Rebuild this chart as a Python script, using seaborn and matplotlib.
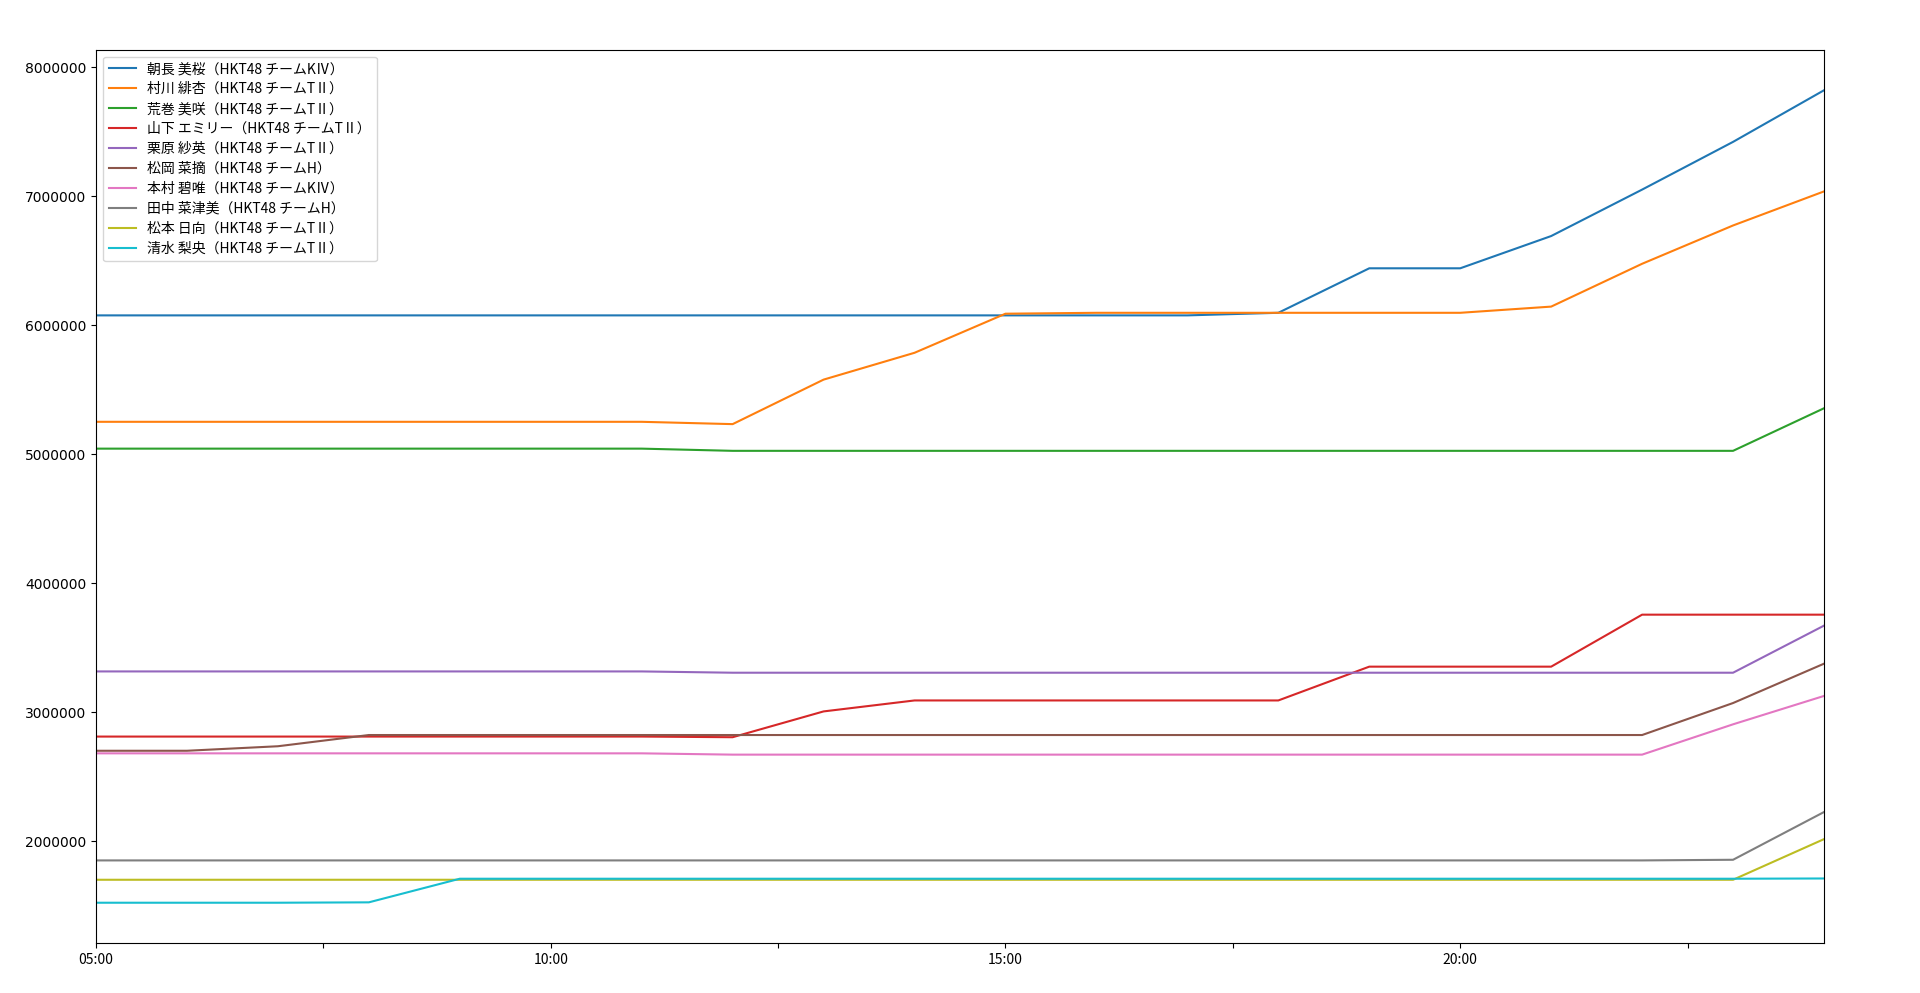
import numpy as np
import pandas as pd
import matplotlib
matplotlib.use("Agg")
import matplotlib.pyplot as plt
import matplotlib.ticker as mticker
from matplotlib import font_manager
import seaborn as sns

# hours of the day (24 = midnight)
hours = [5, 6, 7, 8, 9, 10, 11, 12, 13, 14, 15, 16, 17, 18, 19, 20, 21, 22, 23, 24]

names = [
    "朝長 美桜（HKT48 チームKⅣ）",
    "村川 緋杏（HKT48 チームTⅡ）",
    "荒巻 美咲（HKT48 チームTⅡ）",
    "山下 エミリー（HKT48 チームTⅡ）",
    "栗原 紗英（HKT48 チームTⅡ）",
    "松岡 菜摘（HKT48 チームH）",
    "本村 碧唯（HKT48 チームKⅣ）",
    "田中 菜津美（HKT48 チームH）",
    "松本 日向（HKT48 チームTⅡ）",
    "清水 梨央（HKT48 チームTⅡ）",
]

tomonaga = [6075000, 6075000, 6075000, 6075000, 6075000, 6075000, 6075000, 6075000, 6075000, 6075000,
            6075000, 6075000, 6075000, 6095000, 6440000, 6440000, 6690000, 7050000, 7420000, 7820000]
murakawa = [5250000, 5250000, 5250000, 5250000, 5250000, 5250000, 5250000, 5232000, 5577000, 5785000,
            6088000, 6095000, 6095000, 6095000, 6095000, 6095000, 6143000, 6475000, 6772000, 7036000]
aramaki = [5042000, 5042000, 5042000, 5042000, 5042000, 5042000, 5042000, 5025000, 5025000, 5025000,
           5025000, 5025000, 5025000, 5025000, 5025000, 5025000, 5025000, 5025000, 5025000, 5355000]
yamashita = [2810000, 2810000, 2810000, 2810000, 2810000, 2810000, 2810000, 2805000, 3005000, 3090000,
             3090000, 3090000, 3090000, 3090000, 3352000, 3352000, 3352000, 3755000, 3755000, 3755000]
kurihara = [3315000, 3315000, 3315000, 3315000, 3315000, 3315000, 3315000, 3305000, 3305000, 3305000,
            3305000, 3305000, 3305000, 3305000, 3305000, 3305000, 3305000, 3305000, 3305000, 3670000]
matsuoka = [2700000, 2700000, 2735000, 2822000, 2822000, 2822000, 2822000, 2822000, 2822000, 2822000,
            2822000, 2822000, 2822000, 2822000, 2822000, 2822000, 2822000, 2822000, 3070000, 3375000]
motomura = [2680000, 2680000, 2680000, 2680000, 2680000, 2680000, 2680000, 2670000, 2670000, 2670000,
            2670000, 2670000, 2670000, 2670000, 2670000, 2670000, 2670000, 2670000, 2905000, 3125000]
tanaka = [1850000, 1850000, 1850000, 1850000, 1850000, 1850000, 1850000, 1850000, 1850000, 1850000,
          1850000, 1850000, 1850000, 1850000, 1850000, 1850000, 1850000, 1850000, 1855000, 2225000]
matsumoto = [1700000, 1700000, 1700000, 1700000, 1700000, 1700000, 1700000, 1700000, 1700000, 1700000,
             1700000, 1700000, 1700000, 1700000, 1700000, 1700000, 1700000, 1700000, 1700000, 2015000]
shimizu = [1522000, 1522000, 1522000, 1525000, 1708000, 1708000, 1708000, 1708000, 1708000, 1708000,
           1708000, 1708000, 1708000, 1708000, 1708000, 1708000, 1708000, 1708000, 1708000, 1710000]

series = [tomonaga, murakawa, aramaki, yamashita, kurihara,
          matsuoka, motomura, tanaka, matsumoto, shimizu]

plt.rcParams['font.family'] = ['Noto Sans CJK JP', 'DejaVu Sans']
plt.rcParams['font.size'] = 10

available = {f.name for f in font_manager.fontManager.ttflist}
narrow = 'Liberation Sans Narrow' if 'Liberation Sans Narrow' in available else 'Noto Sans CJK JP'

fig, ax = plt.subplots(figsize=(19.2, 9.93), dpi=100)
fig.subplots_adjust(left=0.05, right=0.95, top=0.95, bottom=0.05)

colors = sns.color_palette("tab10", 10)
for name, vals, c in zip(names, series, colors):
    sns.lineplot(x=hours, y=vals, label=name, color=c, ax=ax, linewidth=1.5)

ax.set_xlim(hours[0], hours[-1])
ax.xaxis.set_major_locator(mticker.MultipleLocator(2.5))
ax.xaxis.set_major_formatter(mticker.FuncFormatter(
    lambda v, p: "%02d:00" % int(v) if abs(v % 5) < 1e-6 else ""))
ax.tick_params(axis='x', labelsize=10)
for lab in ax.get_xticklabels():
    lab.set_family([narrow, 'DejaVu Sans'])

ax.yaxis.set_major_locator(mticker.MultipleLocator(1000000))
ax.ticklabel_format(axis='y', style='plain', useOffset=False)
for lab in ax.get_yticklabels():
    lab.set_family(['DejaVu Sans'])

ax.legend(loc='upper left', labelspacing=0.43)
ax.set_xlabel("")
ax.set_ylabel("")

fig.savefig("out.png", dpi=100)
